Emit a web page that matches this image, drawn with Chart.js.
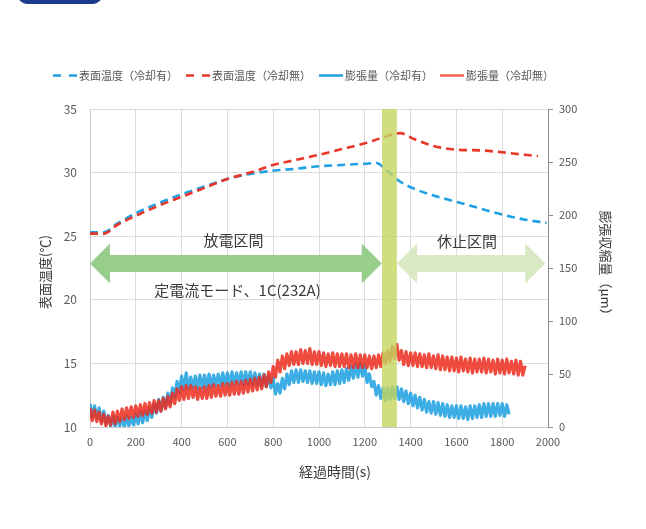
<!DOCTYPE html>
<html>
<head>
<meta charset="utf-8">
<script src="https://cdn.jsdelivr.net/npm/chart.js@4.4.1/dist/chart.umd.min.js"></script>
<style>
  html, body { margin: 0; padding: 0; background: #ffffff; }
  #wrap { position: relative; width: 646px; height: 529px; overflow: hidden; }
  #tab { position: absolute; left: 18px; top: -12px; width: 84px; height: 16px; background: #1b3c8d; border-radius: 0 0 9px 9px; }
  canvas { position: absolute; left: 0; top: 0; }
</style>
</head>
<body>
<div id="wrap">
  <canvas id="chart" width="646" height="529"></canvas>
  <div id="tab"></div>
</div>
<script>
// ---- series labels ----
const seriesLabels = ['表面温度（冷却有）', '表面温度（冷却無）', '膨張量（冷却有）', '膨張量（冷却無）'];

// ---- surface temperature (°C), sparse readings ----
const tempTimeCooled = [0, 60, 120, 200, 300, 400, 500, 600, 700, 800, 900, 1000, 1100, 1200, 1250, 1300, 1354, 1420, 1500, 1600, 1700, 1800, 1900, 1994];
const tempCooled     = [25.3, 25.3, 26.0, 26.8, 27.6, 28.3, 28.9, 29.5, 29.9, 30.15, 30.3, 30.5, 30.6, 30.7, 30.75, 30.1, 29.3, 28.7, 28.2, 27.7, 27.2, 26.7, 26.3, 26.05];
const tempTimeUncooled = [0, 60, 120, 200, 300, 400, 500, 600, 700, 800, 900, 1000, 1100, 1200, 1270, 1354, 1420, 1500, 1600, 1700, 1800, 1900, 1956];
const tempUncooled     = [25.2, 25.2, 25.9, 26.6, 27.4, 28.1, 28.8, 29.5, 30.0, 30.6, 31.0, 31.4, 31.85, 32.3, 32.7, 33.1, 32.6, 32.1, 31.8, 31.75, 31.6, 31.4, 31.3];

// ---- expansion (µm), sampled every 10 s; raw sensor readings are noisy ----
const EXPANSION_STEP_S = 10;
const expansionCooled = [
  22, 9, 20, 8, 18, 5, 15, 3, 11, 1,
  10, 0, 9, 1, 8, 0, 10, 1, 9, 2,
  12, 3, 14, 4, 15, 6, 18, 9, 22, 13,
  26, 15, 28, 18, 32, 22, 37, 28, 43, 33,
  48, 35, 51, 36, 47, 37, 48, 36, 49, 37,
  49, 37, 50, 38, 49, 39, 50, 39, 51, 40,
  51, 39, 52, 40, 51, 41, 52, 40, 52, 41,
  52, 40, 51, 40, 50, 39, 50, 38, 49, 37,
  46, 31, 41, 32, 46, 36, 50, 40, 53, 42,
  54, 42, 54, 43, 53, 42, 53, 41, 52, 41,
  52, 40, 51, 39, 50, 40, 52, 40, 53, 41,
  54, 42, 55, 44, 57, 46, 59, 47, 60, 48,
  58, 42, 50, 38, 43, 30, 39, 27, 37, 25,
  37, 26, 38, 27, 38, 26, 36, 24, 34, 22,
  32, 20, 30, 18, 28, 16, 26, 14, 24, 13,
  24, 12, 23, 11, 22, 10, 21, 9, 20, 9,
  20, 8, 20, 8, 19, 7, 20, 8, 20, 9,
  21, 9, 22, 10, 22, 10, 22, 10, 22, 11,
  22, 10, 21, 12
];
const expansionUncooled = [
  18, 6, 16, 5, 14, 3, 12, 1, 10, 2,
  14, 3, 15, 5, 17, 7, 18, 8, 19, 9,
  20, 10, 21, 11, 22, 12, 23, 13, 25, 14,
  25, 15, 27, 17, 29, 19, 32, 22, 36, 25,
  38, 26, 39, 27, 39, 28, 38, 26, 37, 27,
  38, 27, 39, 28, 40, 29, 39, 29, 41, 30,
  41, 30, 42, 31, 43, 31, 43, 32, 44, 33,
  45, 34, 46, 35, 47, 36, 49, 38, 52, 42,
  57, 47, 63, 52, 67, 55, 69, 58, 71, 59,
  71, 59, 73, 60, 72, 60, 74, 59, 71, 59,
  71, 58, 70, 57, 69, 58, 70, 57, 69, 57,
  69, 57, 69, 56, 68, 56, 69, 56, 68, 56,
  68, 56, 67, 55, 67, 56, 68, 57, 70, 60,
  72, 62, 76, 65, 78, 63, 72, 59, 71, 58,
  70, 58, 70, 57, 69, 57, 68, 56, 69, 56,
  67, 55, 68, 54, 67, 54, 66, 53, 66, 53,
  65, 52, 66, 53, 64, 52, 65, 51, 64, 52,
  64, 52, 65, 51, 64, 52, 63, 50, 64, 51,
  63, 50, 64, 51, 62, 50, 63, 49, 62, 49,
  58
];

// ---- axis ticks ----
const timeTicks = [0, 200, 400, 600, 800, 1000, 1200, 1400, 1600, 1800, 2000];
const tempTicks = [10, 15, 20, 25, 30, 35];
const expansionTicks = [0, 50, 100, 150, 200, 250, 300];

// ---- annotated phases (s) ----
const dischargePhase = [0, 1274];
const restPhase = [1341, 1988];
const transitionBand = [1275, 1340];
const phaseLabels = ['放電区間', '定電流モード、1C(232A)', '休止区間'];

const toPoints = (xs, ys) => ys.map((y, i) => ({ x: xs[i], y }));
const toSeries = (ys) => ys.map((y, i) => ({ x: i * EXPANSION_STEP_S, y }));

const FONT = '"Noto Sans CJK JP", "Noto Sans", sans-serif';
const TEXT = '#3a3a3a';
const TICK = '#595959';

const colors = ['#1ea0e2', '#ea3628', 'rgba(27,159,224,0.85)', 'rgba(236,44,29,0.85)'];
const legendColors = ['#1ea0e2', '#ea3628', '#1b9fe0', '#f06548'];

function arrow(ctx, x0, x1, y, shaftH, headH, headL, color) {
  const s = shaftH / 2, h = headH / 2;
  ctx.save();
  ctx.fillStyle = color;
  ctx.beginPath();
  ctx.moveTo(x0, y);
  ctx.lineTo(x0 + headL, y - h);
  ctx.lineTo(x0 + headL, y - s);
  ctx.lineTo(x1 - headL, y - s);
  ctx.lineTo(x1 - headL, y - h);
  ctx.lineTo(x1, y);
  ctx.lineTo(x1 - headL, y + h);
  ctx.lineTo(x1 - headL, y + s);
  ctx.lineTo(x0 + headL, y + s);
  ctx.lineTo(x0 + headL, y + h);
  ctx.closePath();
  ctx.fill();
  ctx.restore();
}

const overlay = {
  id: 'overlay',
  afterDatasetsDraw(chart) {
    const { ctx, chartArea: a, scales } = chart;
    const x = scales.x, y = scales.y;
    ctx.save();
    // transition band between discharge and rest
    const b0 = x.getPixelForValue(transitionBand[0]);
    const b1 = x.getPixelForValue(transitionBand[1]);
    ctx.fillStyle = 'rgba(196,214,96,0.8)';
    ctx.fillRect(b0, a.top, b1 - b0, a.bottom - a.top);

    // phase arrows
    const ay = y.getPixelForValue(22.85);
    arrow(ctx, x.getPixelForValue(dischargePhase[0]), x.getPixelForValue(dischargePhase[1]), ay, 17, 40, 20, '#97ce8c');
    arrow(ctx, x.getPixelForValue(restPhase[0]), x.getPixelForValue(restPhase[1]), ay, 17, 40, 20, '#d8e9c4');

    // phase labels
    ctx.fillStyle = TEXT;
    ctx.textAlign = 'center';
    ctx.textBaseline = 'middle';
    ctx.font = '15px ' + FONT;
    ctx.fillText(phaseLabels[0], x.getPixelForValue(627), y.getPixelForValue(24.7));
    ctx.fillText(phaseLabels[1], x.getPixelForValue(644), y.getPixelForValue(20.77));
    ctx.fillText(phaseLabels[2], x.getPixelForValue(1646), y.getPixelForValue(24.62));
    ctx.restore();
  },
  afterDraw(chart) {
    const { ctx } = chart;
    ctx.save();
    // axis titles
    ctx.fillStyle = TEXT;
    ctx.textAlign = 'center';
    ctx.textBaseline = 'middle';
    ctx.font = '14px ' + FONT;
    ctx.fillText('経過時間(s)', 335, 472);
    ctx.font = '13px ' + FONT;
    ctx.save();
    ctx.translate(45, 272);
    ctx.rotate(-Math.PI / 2);
    ctx.fillText('表面温度(℃)', 0, 0);
    ctx.restore();
    ctx.save();
    ctx.translate(606, 266);
    ctx.rotate(Math.PI / 2);
    ctx.fillText('膨張収縮量（μm）', 0, 0);
    ctx.restore();

    // legend
    const lx = [53, 186, 319, 440];
    const ly = 75.5;
    ctx.font = '11px ' + FONT;
    ctx.textAlign = 'left';
    ctx.fillStyle = TICK;
    chart.data.datasets.forEach((ds, i) => {
      ctx.save();
      ctx.strokeStyle = legendColors[i];
      ctx.lineWidth = 2.5;
      ctx.setLineDash(ds.borderDash && ds.borderDash.length ? [8, 8] : []);
      ctx.beginPath();
      ctx.moveTo(lx[i], ly);
      ctx.lineTo(lx[i] + 24, ly);
      ctx.stroke();
      ctx.restore();
      ctx.fillText(ds.label, lx[i] + 26, ly);
    });
    ctx.restore();
  }
};

const plainNumber = (v) => String(v);

new Chart(document.getElementById('chart'), {
  type: 'line',
  data: {
    datasets: [
      { label: seriesLabels[0], data: toPoints(tempTimeCooled, tempCooled), yAxisID: 'y',
        borderColor: colors[0], borderWidth: 2.6, borderDash: [8, 5], cubicInterpolationMode: 'monotone', order: 2 },
      { label: seriesLabels[1], data: toPoints(tempTimeUncooled, tempUncooled), yAxisID: 'y',
        borderColor: colors[1], borderWidth: 2.6, borderDash: [8, 5], cubicInterpolationMode: 'monotone', order: 1 },
      { label: seriesLabels[2], data: toSeries(expansionCooled), yAxisID: 'y2',
        borderColor: colors[2], borderWidth: 3.2, borderJoinStyle: 'round', order: 4 },
      { label: seriesLabels[3], data: toSeries(expansionUncooled), yAxisID: 'y2',
        borderColor: colors[3], borderWidth: 3.2, borderJoinStyle: 'round', order: 3 }
    ]
  },
  options: {
    responsive: false,
    animation: false,
    events: [],
    elements: { point: { radius: 0 }, line: { fill: false, tension: 0 } },
    layout: { padding: { left: 0, right: 0, top: 109, bottom: 0 } },
    plugins: { legend: { display: false }, tooltip: { enabled: false } },
    scales: {
      x: {
        type: 'linear', min: 0, max: 2000,
        afterBuildTicks: (s) => { s.ticks = timeTicks.map(v => ({ value: v })); },
        afterFit: (s) => { s.height = 102; },
        grid: { color: '#dcdcdc', lineWidth: 1, drawTicks: false },
        border: { color: '#c8c8c8' },
        ticks: { color: TICK, font: { family: FONT, size: 11 }, padding: 8, maxRotation: 0, callback: plainNumber }
      },
      y: {
        position: 'left', min: 10, max: 35,
        afterBuildTicks: (s) => { s.ticks = tempTicks.map(v => ({ value: v })); },
        afterFit: (s) => { s.width = 90; },
        grid: { color: '#dcdcdc', lineWidth: 1, drawTicks: false },
        border: { color: '#c8c8c8' },
        ticks: { color: TICK, font: { family: FONT, size: 12 }, padding: 13, callback: plainNumber }
      },
      y2: {
        position: 'right', min: 0, max: 300,
        afterBuildTicks: (s) => { s.ticks = expansionTicks.map(v => ({ value: v })); },
        afterFit: (s) => { s.width = 98; },
        grid: { drawOnChartArea: false, color: '#8c8c8c', tickLength: 5 },
        border: { color: '#8c8c8c' },
        ticks: { color: TICK, font: { family: FONT, size: 11 }, padding: 6, callback: plainNumber }
      }
    }
  },
  plugins: [overlay]
});
</script>
</body>
</html>
